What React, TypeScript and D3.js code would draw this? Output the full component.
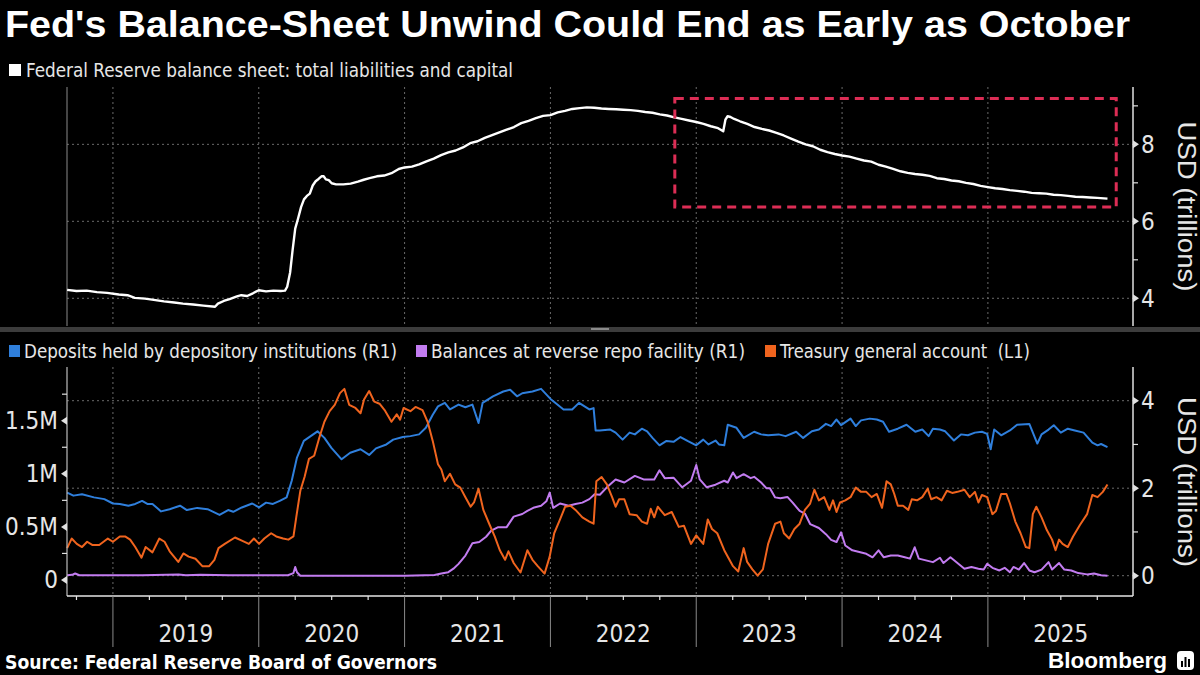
import React from "react";
import * as d3 from "d3";

const W = 1200;
const H = 675;

// ---------- data (time as decimal year) ----------
const yearLabels = ["2019", "2020", "2021", "2022", "2023", "2024", "2025"];
const xDomain: [number, number] = [2018.685, 2025.995];

// Federal Reserve balance sheet, USD trillions
const balanceSheet: [number, number][] = [
  [2018.686, 4.22], [2018.75, 4.19], [2018.82, 4.2], [2018.89, 4.16], [2018.96, 4.14],
  [2019.04, 4.1], [2019.1, 4.08], [2019.15, 4.01], [2019.22, 3.99], [2019.28, 3.96],
  [2019.35, 3.92], [2019.42, 3.89], [2019.48, 3.86], [2019.55, 3.84], [2019.62, 3.81],
  [2019.7, 3.78], [2019.72, 3.86], [2019.76, 3.93], [2019.8, 3.98], [2019.85, 4.05],
  [2019.88, 4.08], [2019.92, 4.06], [2019.96, 4.13], [2020.0, 4.21], [2020.05, 4.18],
  [2020.1, 4.2], [2020.15, 4.19], [2020.18, 4.2], [2020.195, 4.3], [2020.215, 4.67],
  [2020.232, 5.25], [2020.25, 5.81], [2020.27, 6.08], [2020.29, 6.37], [2020.31, 6.57],
  [2020.33, 6.66], [2020.35, 6.72], [2020.37, 6.93], [2020.39, 7.04], [2020.41, 7.1],
  [2020.43, 7.17], [2020.445, 7.17], [2020.46, 7.09], [2020.48, 7.07], [2020.5, 6.99],
  [2020.53, 6.96], [2020.58, 6.96], [2020.63, 6.98], [2020.68, 7.03], [2020.72, 7.08],
  [2020.76, 7.12], [2020.81, 7.17], [2020.86, 7.19], [2020.91, 7.25], [2020.96, 7.36],
  [2021.0, 7.4], [2021.05, 7.42], [2021.1, 7.48], [2021.15, 7.56], [2021.2, 7.63],
  [2021.25, 7.72], [2021.3, 7.79], [2021.35, 7.84], [2021.4, 7.92], [2021.45, 8.03],
  [2021.5, 8.08], [2021.55, 8.17], [2021.6, 8.24], [2021.65, 8.31], [2021.7, 8.38],
  [2021.75, 8.45], [2021.8, 8.55], [2021.85, 8.61], [2021.9, 8.68], [2021.95, 8.74],
  [2022.0, 8.76], [2022.05, 8.83], [2022.1, 8.87], [2022.15, 8.92], [2022.2, 8.94],
  [2022.25, 8.96], [2022.3, 8.95], [2022.35, 8.93], [2022.4, 8.92], [2022.45, 8.91],
  [2022.5, 8.9], [2022.55, 8.89], [2022.6, 8.87], [2022.65, 8.84], [2022.7, 8.82],
  [2022.75, 8.78], [2022.8, 8.75], [2022.85, 8.7], [2022.9, 8.66], [2022.95, 8.62],
  [2023.0, 8.58], [2023.05, 8.53], [2023.1, 8.47], [2023.15, 8.42], [2023.185, 8.34],
  [2023.2, 8.64], [2023.215, 8.73], [2023.235, 8.71], [2023.26, 8.66], [2023.3, 8.6],
  [2023.35, 8.53], [2023.4, 8.45], [2023.45, 8.4], [2023.5, 8.36], [2023.55, 8.3],
  [2023.6, 8.23], [2023.65, 8.15], [2023.7, 8.07], [2023.75, 8.0], [2023.8, 7.95],
  [2023.85, 7.86], [2023.9, 7.8], [2023.95, 7.75], [2024.0, 7.71], [2024.05, 7.68],
  [2024.1, 7.63], [2024.15, 7.58], [2024.2, 7.55], [2024.25, 7.47], [2024.3, 7.42],
  [2024.35, 7.36], [2024.4, 7.3], [2024.45, 7.26], [2024.5, 7.23], [2024.55, 7.21],
  [2024.6, 7.18], [2024.65, 7.12], [2024.7, 7.1], [2024.75, 7.06], [2024.8, 7.04],
  [2024.85, 7.0], [2024.9, 6.97], [2024.95, 6.92], [2025.0, 6.89], [2025.05, 6.86],
  [2025.1, 6.84], [2025.15, 6.81], [2025.2, 6.79], [2025.25, 6.77], [2025.3, 6.74],
  [2025.35, 6.73], [2025.4, 6.72], [2025.45, 6.69], [2025.5, 6.68], [2025.55, 6.66],
  [2025.6, 6.64], [2025.65, 6.63], [2025.7, 6.62], [2025.75, 6.61], [2025.82, 6.59],
];

// Deposits held by depository institutions, USD trillions (R1)
const deposits: [number, number][] = [
  [2018.686, 1.9], [2018.729, 1.83], [2018.788, 1.86], [2018.87, 1.79], [2018.941, 1.75],
  [2019.0, 1.65], [2019.047, 1.64], [2019.106, 1.6], [2019.153, 1.64], [2019.2, 1.71],
  [2019.236, 1.64], [2019.271, 1.64], [2019.33, 1.47], [2019.389, 1.52], [2019.46, 1.6],
  [2019.507, 1.5], [2019.578, 1.55], [2019.649, 1.52], [2019.731, 1.39], [2019.79, 1.5],
  [2019.825, 1.46], [2019.884, 1.56], [2019.955, 1.65], [2020.002, 1.56], [2020.05, 1.67],
  [2020.097, 1.64], [2020.144, 1.71], [2020.191, 1.79], [2020.226, 2.17], [2020.262, 2.7],
  [2020.309, 3.08], [2020.356, 3.19], [2020.403, 3.3], [2020.45, 3.15], [2020.498, 2.92],
  [2020.568, 2.66], [2020.627, 2.81], [2020.698, 2.89], [2020.757, 2.76], [2020.804, 2.91],
  [2020.875, 3.0], [2020.922, 3.11], [2020.988, 3.17], [2021.04, 3.19], [2021.099, 3.23],
  [2021.146, 3.38], [2021.193, 3.68], [2021.229, 3.87], [2021.276, 3.95], [2021.311, 3.8],
  [2021.37, 3.91], [2021.417, 3.85], [2021.465, 3.91], [2021.507, 3.49], [2021.535, 3.95],
  [2021.606, 4.1], [2021.677, 4.21], [2021.724, 4.25], [2021.771, 4.1], [2021.807, 4.17],
  [2021.877, 4.21], [2021.936, 4.27], [2022.007, 4.02], [2022.09, 3.8], [2022.149, 3.8],
  [2022.196, 3.95], [2022.267, 3.8], [2022.296, 3.83], [2022.31, 3.32], [2022.339, 3.32],
  [2022.411, 3.34], [2022.447, 3.27], [2022.495, 3.11], [2022.543, 3.27], [2022.579, 3.23],
  [2022.627, 3.36], [2022.663, 3.3], [2022.7, 3.15], [2022.748, 2.98], [2022.796, 3.08],
  [2022.844, 3.06], [2022.892, 3.17], [2022.94, 3.08], [2023.0, 2.98], [2023.048, 3.11],
  [2023.084, 3.0], [2023.132, 3.09], [2023.156, 3.0], [2023.192, 2.98], [2023.216, 3.45],
  [2023.276, 3.38], [2023.325, 3.15], [2023.397, 3.29], [2023.445, 3.23], [2023.493, 3.21],
  [2023.565, 3.23], [2023.613, 3.19], [2023.685, 3.29], [2023.733, 3.15], [2023.793, 3.3],
  [2023.841, 3.34], [2023.889, 3.47], [2023.925, 3.42], [2023.962, 3.57], [2023.993, 3.44],
  [2024.058, 3.59], [2024.094, 3.42], [2024.13, 3.55], [2024.19, 3.59], [2024.238, 3.57],
  [2024.281, 3.52], [2024.322, 3.29], [2024.382, 3.36], [2024.442, 3.45], [2024.502, 3.29],
  [2024.55, 3.34], [2024.594, 3.19], [2024.623, 3.36], [2024.671, 3.34], [2024.707, 3.3],
  [2024.767, 3.09], [2024.815, 3.23], [2024.863, 3.21], [2024.911, 3.27], [2024.959, 3.29],
  [2024.995, 3.24], [2025.019, 2.89], [2025.043, 3.34], [2025.091, 3.21], [2025.151, 3.32],
  [2025.2, 3.45], [2025.284, 3.47], [2025.339, 3.02], [2025.368, 3.23], [2025.416, 3.34],
  [2025.452, 3.44], [2025.5, 3.27], [2025.548, 3.36], [2025.596, 3.32], [2025.656, 3.27],
  [2025.716, 3.04], [2025.752, 2.98], [2025.776, 3.01], [2025.82, 2.94],
];

// Balances at reverse repo facility, USD trillions (R1)
const reverseRepo: [number, number][] = [
  [2018.686, 0.01], [2018.72, 0.02], [2018.741, 0.05], [2018.77, 0.01], [2018.9, 0.01],
  [2019.0, 0.01], [2019.2, 0.01], [2019.45, 0.03], [2019.5, 0.01], [2019.6, 0.02],
  [2019.8, 0.01], [2020.0, 0.01], [2020.2, 0.01], [2020.238, 0.06], [2020.25, 0.2],
  [2020.262, 0.08], [2020.285, 0.0], [2020.6, 0.0], [2021.0, 0.0], [2021.205, 0.015],
  [2021.252, 0.05], [2021.3, 0.08], [2021.335, 0.16], [2021.37, 0.27], [2021.417, 0.46],
  [2021.465, 0.74], [2021.512, 0.77], [2021.559, 0.89], [2021.594, 1.03], [2021.642, 1.11],
  [2021.7, 1.11], [2021.748, 1.35], [2021.807, 1.41], [2021.842, 1.48], [2021.889, 1.56],
  [2021.936, 1.6], [2021.972, 1.7], [2021.995, 1.9], [2022.019, 1.55], [2022.066, 1.65],
  [2022.125, 1.6], [2022.172, 1.64], [2022.219, 1.67], [2022.267, 1.75], [2022.303, 1.86],
  [2022.339, 1.85], [2022.387, 2.02], [2022.447, 2.2], [2022.507, 2.13], [2022.579, 2.28],
  [2022.639, 2.2], [2022.712, 2.2], [2022.748, 2.41], [2022.784, 2.23], [2022.844, 2.24],
  [2022.904, 2.02], [2022.964, 2.17], [2023.0, 2.53], [2023.024, 2.2], [2023.072, 2.02],
  [2023.132, 2.08], [2023.192, 2.17], [2023.216, 2.13], [2023.252, 2.36], [2023.276, 2.23],
  [2023.325, 2.32], [2023.373, 2.23], [2023.397, 2.26], [2023.445, 2.13], [2023.481, 2.0],
  [2023.505, 2.0], [2023.541, 1.79], [2023.577, 1.77], [2023.625, 1.8], [2023.661, 1.67],
  [2023.709, 1.48], [2023.745, 1.42], [2023.781, 1.18], [2023.841, 1.09], [2023.889, 0.95],
  [2023.925, 0.82], [2023.962, 0.77], [2023.993, 0.99], [2024.022, 0.69], [2024.07, 0.58],
  [2024.118, 0.54], [2024.166, 0.5], [2024.209, 0.42], [2024.25, 0.58], [2024.286, 0.42],
  [2024.334, 0.46], [2024.382, 0.46], [2024.43, 0.42], [2024.466, 0.39], [2024.498, 0.65],
  [2024.526, 0.39], [2024.575, 0.35], [2024.623, 0.31], [2024.671, 0.41], [2024.695, 0.29],
  [2024.743, 0.42], [2024.791, 0.29], [2024.839, 0.16], [2024.887, 0.2], [2024.935, 0.16],
  [2024.971, 0.14], [2024.995, 0.27], [2025.031, 0.18], [2025.079, 0.12], [2025.115, 0.18],
  [2025.151, 0.08], [2025.175, 0.2], [2025.212, 0.14], [2025.248, 0.29], [2025.284, 0.12],
  [2025.32, 0.08], [2025.368, 0.14], [2025.416, 0.31], [2025.44, 0.14], [2025.488, 0.29],
  [2025.524, 0.14], [2025.572, 0.12], [2025.62, 0.06], [2025.68, 0.03], [2025.728, 0.05],
  [2025.776, 0.01], [2025.82, 0.0],
];

// Treasury general account, USD millions (in M units, L1)
const tga: [number, number][] = [
  [2018.686, 0.3], [2018.717, 0.39], [2018.752, 0.34], [2018.788, 0.31], [2018.823, 0.36],
  [2018.858, 0.33], [2018.906, 0.33], [2018.965, 0.39], [2019.0, 0.36], [2019.047, 0.41],
  [2019.083, 0.41], [2019.118, 0.38], [2019.153, 0.31], [2019.196, 0.21], [2019.224, 0.31],
  [2019.271, 0.26], [2019.318, 0.39], [2019.354, 0.36], [2019.389, 0.27], [2019.448, 0.17],
  [2019.483, 0.25], [2019.519, 0.22], [2019.566, 0.2], [2019.613, 0.13], [2019.66, 0.13],
  [2019.696, 0.19], [2019.724, 0.3], [2019.767, 0.34], [2019.837, 0.4], [2019.884, 0.37],
  [2019.932, 0.34], [2019.967, 0.39], [2020.002, 0.34], [2020.038, 0.39], [2020.085, 0.44],
  [2020.12, 0.41], [2020.167, 0.39], [2020.203, 0.38], [2020.238, 0.41], [2020.257, 0.59],
  [2020.285, 0.84], [2020.314, 0.97], [2020.344, 1.14], [2020.38, 1.17], [2020.415, 1.34],
  [2020.45, 1.49], [2020.486, 1.59], [2020.521, 1.65], [2020.557, 1.76], [2020.587, 1.8],
  [2020.62, 1.65], [2020.663, 1.62], [2020.698, 1.57], [2020.722, 1.7], [2020.757, 1.78],
  [2020.792, 1.68], [2020.828, 1.66], [2020.863, 1.6], [2020.91, 1.49], [2020.946, 1.56],
  [2020.969, 1.51], [2020.993, 1.62], [2021.04, 1.59], [2021.075, 1.63], [2021.123, 1.6],
  [2021.158, 1.49], [2021.193, 1.31], [2021.229, 1.09], [2021.252, 1.04], [2021.276, 0.93],
  [2021.311, 1.0], [2021.347, 0.9], [2021.382, 0.87], [2021.417, 0.78], [2021.453, 0.69],
  [2021.476, 0.73], [2021.507, 0.86], [2021.54, 0.66], [2021.583, 0.52], [2021.618, 0.41],
  [2021.653, 0.28], [2021.689, 0.19], [2021.712, 0.27], [2021.748, 0.16], [2021.795, 0.07],
  [2021.842, 0.28], [2021.877, 0.19], [2021.913, 0.13], [2021.96, 0.06], [2021.995, 0.22],
  [2022.026, 0.44], [2022.066, 0.57], [2022.101, 0.69], [2022.137, 0.7], [2022.172, 0.66],
  [2022.219, 0.59], [2022.267, 0.55], [2022.296, 0.53], [2022.315, 0.93], [2022.351, 0.97],
  [2022.387, 0.9], [2022.423, 0.78], [2022.447, 0.69], [2022.471, 0.76], [2022.507, 0.76],
  [2022.543, 0.62], [2022.591, 0.61], [2022.627, 0.55], [2022.663, 0.53], [2022.688, 0.67],
  [2022.712, 0.59], [2022.736, 0.69], [2022.784, 0.61], [2022.832, 0.64], [2022.88, 0.5],
  [2022.916, 0.51], [2022.964, 0.34], [2023.0, 0.42], [2023.048, 0.34], [2023.079, 0.57],
  [2023.108, 0.48], [2023.144, 0.44], [2023.192, 0.28], [2023.252, 0.13], [2023.288, 0.08],
  [2023.325, 0.3], [2023.349, 0.17], [2023.385, 0.1], [2023.421, 0.04], [2023.457, 0.1],
  [2023.493, 0.34], [2023.541, 0.53], [2023.577, 0.55], [2023.601, 0.44], [2023.637, 0.39],
  [2023.673, 0.48], [2023.709, 0.53], [2023.745, 0.66], [2023.781, 0.72], [2023.81, 0.85],
  [2023.841, 0.75], [2023.877, 0.78], [2023.913, 0.66], [2023.938, 0.75], [2023.962, 0.64],
  [2023.986, 0.73], [2024.022, 0.75], [2024.058, 0.78], [2024.094, 0.87], [2024.13, 0.83],
  [2024.166, 0.83], [2024.202, 0.78], [2024.238, 0.81], [2024.274, 0.68], [2024.305, 0.93],
  [2024.334, 0.9], [2024.358, 0.81], [2024.382, 0.7], [2024.418, 0.7], [2024.454, 0.66],
  [2024.478, 0.76], [2024.514, 0.75], [2024.55, 0.78], [2024.587, 0.86], [2024.611, 0.76],
  [2024.647, 0.78], [2024.683, 0.75], [2024.719, 0.84], [2024.755, 0.82], [2024.791, 0.83],
  [2024.839, 0.85], [2024.875, 0.78], [2024.911, 0.83], [2024.935, 0.73], [2024.959, 0.8],
  [2024.995, 0.78], [2025.031, 0.62], [2025.055, 0.65], [2025.091, 0.81], [2025.127, 0.81],
  [2025.151, 0.72], [2025.188, 0.55], [2025.224, 0.44], [2025.26, 0.31], [2025.284, 0.3],
  [2025.308, 0.62], [2025.332, 0.69], [2025.368, 0.59], [2025.404, 0.47], [2025.44, 0.38],
  [2025.464, 0.28], [2025.488, 0.38], [2025.512, 0.34], [2025.548, 0.31], [2025.584, 0.41],
  [2025.632, 0.52], [2025.68, 0.62], [2025.716, 0.8], [2025.752, 0.78], [2025.788, 0.83],
  [2025.82, 0.9],
];

// highlight box on the top panel (decimal years, USD trillions)
const highlightX: [number, number] = [2022.853, 2025.88];
const highlightY: [number, number] = [6.37, 9.19];

const topMajor = [4, 6, 8];
const topMinor = [5, 7, 9];
const leftMajor = [0, 0.5, 1, 1.5];
const leftMajorLabels = ["0", "0.5M", "1M", "1.5M"];
const leftMinor = [0.25, 0.75, 1.25, 1.75];
const rightMajor = [0, 2, 4];
const rightMinor = [1, 3];

const title = "Fed's Balance-Sheet Unwind Could End as Early as October";
const topLegend = "Federal Reserve balance sheet: total liabilities and capital";
const bottomLegend = [
  { label: "Deposits held by depository institutions (R1)", color: "#2f7fdc" },
  { label: "Balances at reverse repo facility (R1)", color: "#c27cf0" },
  { label: "Treasury general account  (L1)", color: "#f0641e" },
];
const axisTitle = "USD (trillions)";
const source = "Source: Federal Reserve Board of Governors";

// ---------- layout ----------
const X0 = 67;
const X1 = 1133;
const TOP_Y0 = 87;
const TOP_Y1 = 326;
const BOT_Y0 = 367;
const BOT_Y1 = 596;

const NARROW = "'Liberation Sans Narrow', 'DejaVu Sans Condensed', 'Liberation Sans', Arial, sans-serif";
const SANS = "'Liberation Sans', Arial, sans-serif";
const TXT = "#e6e6e6";
const GRID = "#6a6a6a";

export default function App() {
  const x = d3.scaleLinear().domain(xDomain).range([X0, X1]);
  const yTop = d3.scaleLinear().domain([3.28, 9.49]).range([TOP_Y1, TOP_Y0]);
  const yRight = d3.scaleLinear().domain([-0.464, 4.77]).range([BOT_Y1, BOT_Y0]);
  const yLeft = d3.scaleLinear().domain([-0.151, 2.006]).range([BOT_Y1, BOT_Y0]);

  const lineTop = d3.line<[number, number]>().x((d) => x(d[0])).y((d) => yTop(d[1]));
  const lineR = d3.line<[number, number]>().x((d) => x(d[0])).y((d) => yRight(d[1]));
  const lineL = d3.line<[number, number]>().x((d) => x(d[0])).y((d) => yLeft(d[1]));

  const yearStarts = d3.range(2019, 2026);
  const quarters = d3.range(2018.75, 2026, 0.25).filter((q) => q > xDomain[0] && q < xDomain[1] && Math.abs(q - Math.round(q)) > 0.01);

  return (
    <svg
      width={W}
      height={H}
      viewBox={`0 0 ${W} ${H}`}
      style={{ position: "absolute", left: 0, top: 0, background: "#000" }}
    >
      <rect x={0} y={0} width={W} height={H} fill="#000" />

      {/* Title */}
      <text x={5} y={37} fill="#fff" fontFamily={SANS} fontWeight="bold" fontSize={36}
        textLength={1125} lengthAdjust="spacingAndGlyphs">{title}</text>

      {/* Top legend */}
      <rect x={9} y={64} width={12} height={12} fill="#fff" />
      <text x={26} y={77} fill={TXT} fontFamily={NARROW} fontSize={20}
        textLength={487} lengthAdjust="spacingAndGlyphs">{topLegend}</text>

      {/* ---------- Top panel ---------- */}
      {yearStarts.map((yr) => (
        <line key={"tv" + yr} x1={x(yr)} x2={x(yr)} y1={TOP_Y0} y2={TOP_Y1}
          stroke={GRID} strokeWidth={1} strokeDasharray="2 3" />
      ))}
      {topMajor.map((v) => (
        <line key={"th" + v} x1={X0} x2={X1} y1={yTop(v)} y2={yTop(v)}
          stroke={GRID} strokeWidth={1} strokeDasharray="2 3" />
      ))}
      <line x1={X0} x2={X0} y1={TOP_Y0} y2={TOP_Y1} stroke="#8a8a8a" strokeWidth={1} />
      <line x1={X1} x2={X1} y1={TOP_Y0} y2={TOP_Y1} stroke="#e0e0e0" strokeWidth={1.5} />
      {topMinor.map((v) => (
        <line key={"tm" + v} x1={X1} x2={X1 + 5} y1={yTop(v)} y2={yTop(v)} stroke="#e0e0e0" strokeWidth={1.2} />
      ))}
      {topMajor.map((v) => (
        <g key={"tM" + v}>
          <polygon points={`${X1},${yTop(v) - 4} ${X1},${yTop(v) + 4} ${X1 + 6},${yTop(v)}`} fill="#e0e0e0" />
          <text x={X1 + 8} y={yTop(v)} dy="0.35em" fill={TXT} fontFamily={NARROW} fontSize={24}>{v}</text>
        </g>
      ))}
      <text transform={`translate(1178, ${(TOP_Y0 + TOP_Y1) / 2}) rotate(90)`} textAnchor="middle"
        fill={TXT} fontFamily={SANS} fontSize={25} textLength={170} lengthAdjust="spacingAndGlyphs">{axisTitle}</text>

      <path d={lineTop(balanceSheet) || ""} fill="none" stroke="#fff" strokeWidth={2.4} strokeLinejoin="round" />

      <rect x={x(highlightX[0])} y={yTop(highlightY[1])}
        width={x(highlightX[1]) - x(highlightX[0])} height={yTop(highlightY[0]) - yTop(highlightY[1])}
        fill="none" stroke="#dc2d55" strokeWidth={3} strokeDasharray="9 6" />

      {/* separator */}
      <rect x={0} y={327} width={W} height={5} fill="#3c3c3c" />
      <rect x={591} y={328} width={18} height={2} fill="#8a8a8a" />

      {/* Bottom legend */}
      {(() => {
        const pos = [
          { sx: 9, tx: 24, len: 373 },
          { sx: 416, tx: 431, len: 314 },
          { sx: 765, tx: 780, len: 250 },
        ];
        return bottomLegend.map((l, i) => (
          <g key={"bl" + i}>
            <rect x={pos[i].sx} y={345} width={11} height={12} fill={l.color} />
            <text x={pos[i].tx} y={358} fill={TXT} fontFamily={NARROW} fontSize={20}
              textLength={pos[i].len} lengthAdjust="spacingAndGlyphs" xmlSpace="preserve">{l.label}</text>
          </g>
        ));
      })()}

      {/* ---------- Bottom panel ---------- */}
      {yearStarts.map((yr) => (
        <line key={"bv" + yr} x1={x(yr)} x2={x(yr)} y1={BOT_Y0} y2={BOT_Y1}
          stroke={GRID} strokeWidth={1} strokeDasharray="2 3" />
      ))}
      {rightMajor.map((v) => (
        <line key={"bh" + v} x1={X0} x2={X1} y1={yRight(v)} y2={yRight(v)}
          stroke={GRID} strokeWidth={1} strokeDasharray="2 3" />
      ))}

      <path d={lineR(deposits) || ""} fill="none" stroke={bottomLegend[0].color} strokeWidth={2} strokeLinejoin="round" />
      <path d={lineR(reverseRepo) || ""} fill="none" stroke={bottomLegend[1].color} strokeWidth={2} strokeLinejoin="round" />
      <path d={lineL(tga) || ""} fill="none" stroke={bottomLegend[2].color} strokeWidth={2} strokeLinejoin="round" />

      {/* left axis */}
      <line x1={X0} x2={X0} y1={BOT_Y0} y2={BOT_Y1} stroke="#bdbdbd" strokeWidth={1.2} />
      {leftMinor.map((v) => (
        <line key={"lm" + v} x1={X0 - 5} x2={X0} y1={yLeft(v)} y2={yLeft(v)} stroke="#e0e0e0" strokeWidth={1.2} />
      ))}
      {leftMajor.map((v, i) => (
        <g key={"lM" + v}>
          <polygon points={`${X0},${yLeft(v) - 4} ${X0},${yLeft(v) + 4} ${X0 - 6},${yLeft(v)}`} fill="#e0e0e0" />
          <text x={X0 - 9} y={yLeft(v)} dy="0.35em" textAnchor="end" fill={TXT} fontFamily={NARROW} fontSize={24}>
            {leftMajorLabels[i]}
          </text>
        </g>
      ))}

      {/* right axis */}
      <line x1={X1} x2={X1} y1={BOT_Y0} y2={BOT_Y1} stroke="#e0e0e0" strokeWidth={1.5} />
      {rightMinor.map((v) => (
        <line key={"rm" + v} x1={X1} x2={X1 + 5} y1={yRight(v)} y2={yRight(v)} stroke="#e0e0e0" strokeWidth={1.2} />
      ))}
      {rightMajor.map((v) => (
        <g key={"rM" + v}>
          <polygon points={`${X1},${yRight(v) - 4} ${X1},${yRight(v) + 4} ${X1 + 6},${yRight(v)}`} fill="#e0e0e0" />
          <text x={X1 + 8} y={yRight(v)} dy="0.35em" fill={TXT} fontFamily={NARROW} fontSize={24}>{v}</text>
        </g>
      ))}
      <text transform={`translate(1178, 482) rotate(90)`} textAnchor="middle"
        fill={TXT} fontFamily={SANS} fontSize={25} textLength={170} lengthAdjust="spacingAndGlyphs">{axisTitle}</text>

      {/* x axis */}
      <line x1={X0} x2={X1} y1={BOT_Y1} y2={BOT_Y1} stroke="#e6e6e6" strokeWidth={1.5} />
      {quarters.map((q) => (
        <line key={"q" + q} x1={x(q)} x2={x(q)} y1={BOT_Y1} y2={BOT_Y1 + 4} stroke="#e6e6e6" strokeWidth={1.2} />
      ))}
      {yearStarts.map((yr) => (
        <line key={"yl" + yr} x1={x(yr)} x2={x(yr)} y1={BOT_Y1} y2={647} stroke="#8a8a8a" strokeWidth={1} />
      ))}
      {yearLabels.map((lab, i) => (
        <text key={"yt" + lab} x={x(2019 + i + 0.5)} y={642} textAnchor="middle" fill={TXT}
          fontFamily={NARROW} fontSize={24}>{lab}</text>
      ))}

      {/* footer */}
      <text x={5} y={669} fill="#fff" fontFamily={NARROW} fontWeight="bold" fontSize={20}
        textLength={432} lengthAdjust="spacingAndGlyphs">{source}</text>
      <text x={1048} y={668} fill="#fff" fontFamily={SANS} fontWeight="bold" fontSize={22}
        textLength={119} lengthAdjust="spacingAndGlyphs">Bloomberg</text>
      <g>
        <rect x={1177} y={651} width={17} height={19} rx={4} fill="#fff" />
        <rect x={1181} y={661} width={2} height={6} fill="#000" />
        <rect x={1184.5} y={657} width={2} height={10} fill="#000" />
        <rect x={1188} y={659} width={2} height={8} fill="#000" />
      </g>
    </svg>
  );
}
